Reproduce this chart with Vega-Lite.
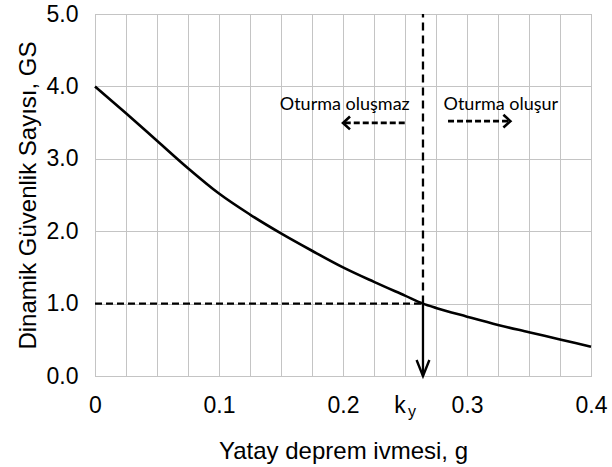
{
  "$schema": "https://vega.github.io/schema/vega-lite/v6.json",
  "autosize": {"type": "none"},
  "padding": {"left": 95, "top": 14, "right": 21, "bottom": 91},
  "width": 496,
  "height": 362,
  "background": "white",
  "config": {
    "view": {"stroke": "#a8a8a8", "strokeWidth": 1},
    "axis": {
      "labelFont": "Liberation Sans",
      "titleFont": "Liberation Sans",
      "labelColor": "#000000",
      "titleColor": "#000000",
      "titleFontWeight": "normal",
      "gridColor": "#c4c4c4",
      "gridWidth": 1,
      "gridOpacity": 1,
      "domain": false,
      "ticks": false
    }
  },
  "encoding": {
    "x": {
      "field": "x", "type": "quantitative",
      "scale": {"domain": [0, 0.4], "nice": false, "zero": false},
      "axis": {
        "values": [0, 0.025, 0.05, 0.075, 0.1, 0.125, 0.15, 0.175, 0.2, 0.225, 0.25, 0.275, 0.3, 0.325, 0.35, 0.375, 0.4],
        "labelExpr": "abs(datum.value*10 - round(datum.value*10)) < 0.001 ? format(datum.value, '.1~f') : ''",
        "labelFontSize": 23,
        "labelPadding": 18,
        "labelFlush": false,
        "labelOverlap": false,
        "title": "Yatay deprem ivmesi, g",
        "titleFontSize": 24,
        "titlePadding": 22
      }
    },
    "y": {
      "field": "y", "type": "quantitative",
      "scale": {"domain": [0, 5], "nice": false},
      "axis": {
        "values": [0, 1, 2, 3, 4, 5],
        "format": ".1f",
        "labelFontSize": 23,
        "labelPadding": 17,
        "labelFlush": false,
        "title": "Dinamik Güvenlik Sayısı, GS",
        "titleFontSize": 24,
        "titlePadding": 6
      }
    }
  },
  "layer": [
    {
      "data": {"values": [
        {"x": 0.0, "y": 4.0},
        {"x": 0.025, "y": 3.63},
        {"x": 0.05, "y": 3.25},
        {"x": 0.075, "y": 2.87},
        {"x": 0.1, "y": 2.52},
        {"x": 0.125, "y": 2.23},
        {"x": 0.15, "y": 1.97},
        {"x": 0.175, "y": 1.73},
        {"x": 0.2, "y": 1.5},
        {"x": 0.225, "y": 1.3},
        {"x": 0.25, "y": 1.11},
        {"x": 0.2645, "y": 1.0},
        {"x": 0.275, "y": 0.94},
        {"x": 0.3, "y": 0.82},
        {"x": 0.325, "y": 0.705},
        {"x": 0.35, "y": 0.605},
        {"x": 0.375, "y": 0.505},
        {"x": 0.4, "y": 0.405}
      ]},
      "mark": {"type": "line", "color": "#000000", "strokeWidth": 2.6, "interpolate": "monotone"}
    },
    {
      "data": {"values": [{"x": 0, "x2": 0.2645, "y": 1}]},
      "mark": {"type": "rule", "color": "#000000", "strokeWidth": 2.3, "strokeDash": [7, 4]},
      "encoding": {"x2": {"field": "x2"}}
    },
    {
      "data": {"values": [{"x": 0.2645, "y": 1, "y2": 5}]},
      "mark": {"type": "rule", "color": "#000000", "strokeWidth": 2.3, "strokeDash": [8, 5]},
      "encoding": {"y2": {"field": "y2"}}
    },
    {
      "data": {"values": [{"x": 0.2645, "y": 0, "y2": 1}]},
      "mark": {"type": "rule", "color": "#000000", "strokeWidth": 2.3},
      "encoding": {"y2": {"field": "y2"}}
    },
    {
      "data": {"values": [{"x": 0.2645, "y": 0}]},
      "mark": {"type": "point", "shape": "M -1.6 -4 L 0 0 L 1.6 -4", "size": 64, "filled": false, "stroke": "#000000", "strokeWidth": 2.4, "opacity": 1}
    },
    {
      "data": {"values": [{"x": 0.2498, "x2": 0.201, "y": 3.495}, {"x": 0.2847, "x2": 0.334, "y": 3.52}]},
      "mark": {"type": "rule", "color": "#000000", "strokeWidth": 2.8, "strokeDash": [6, 3]},
      "encoding": {"x2": {"field": "x2"}}
    },
    {
      "data": {"values": [{"x": 0.2, "y": 3.495}]},
      "mark": {"type": "point", "shape": "M 1.75 -1.6 L 0 0 L 1.75 1.6", "size": 64, "filled": false, "stroke": "#000000", "strokeWidth": 2.6, "opacity": 1}
    },
    {
      "data": {"values": [{"x": 0.335, "y": 3.52}]},
      "mark": {"type": "point", "shape": "M -1.75 -1.6 L 0 0 L -1.75 1.6", "size": 64, "filled": false, "stroke": "#000000", "strokeWidth": 2.6, "opacity": 1}
    },
    {
      "data": {"values": [{"x": 0.2014, "y": 3.75, "t": "Oturma oluşmaz"}, {"x": 0.3273, "y": 3.75, "t": "Oturma oluşur"}]},
      "mark": {"type": "text", "font": "Lato", "fontSize": 18, "color": "#000000", "align": "center", "baseline": "middle"},
      "encoding": {"text": {"field": "t"}}
    },
    {
      "data": {"values": [{"x": 0.2645, "y": 0, "t": "k"}]},
      "mark": {"type": "text", "font": "Liberation Sans", "fontSize": 23, "color": "#000000", "align": "center", "baseline": "top", "dx": -23, "dy": 19, "clip": false},
      "encoding": {"text": {"field": "t"}}
    },
    {
      "data": {"values": [{"x": 0.2645, "y": 0, "t": "y"}]},
      "mark": {"type": "text", "font": "Liberation Sans", "fontSize": 16, "color": "#000000", "align": "center", "baseline": "top", "dx": -11, "dy": 28, "clip": false},
      "encoding": {"text": {"field": "t"}}
    }
  ]
}
